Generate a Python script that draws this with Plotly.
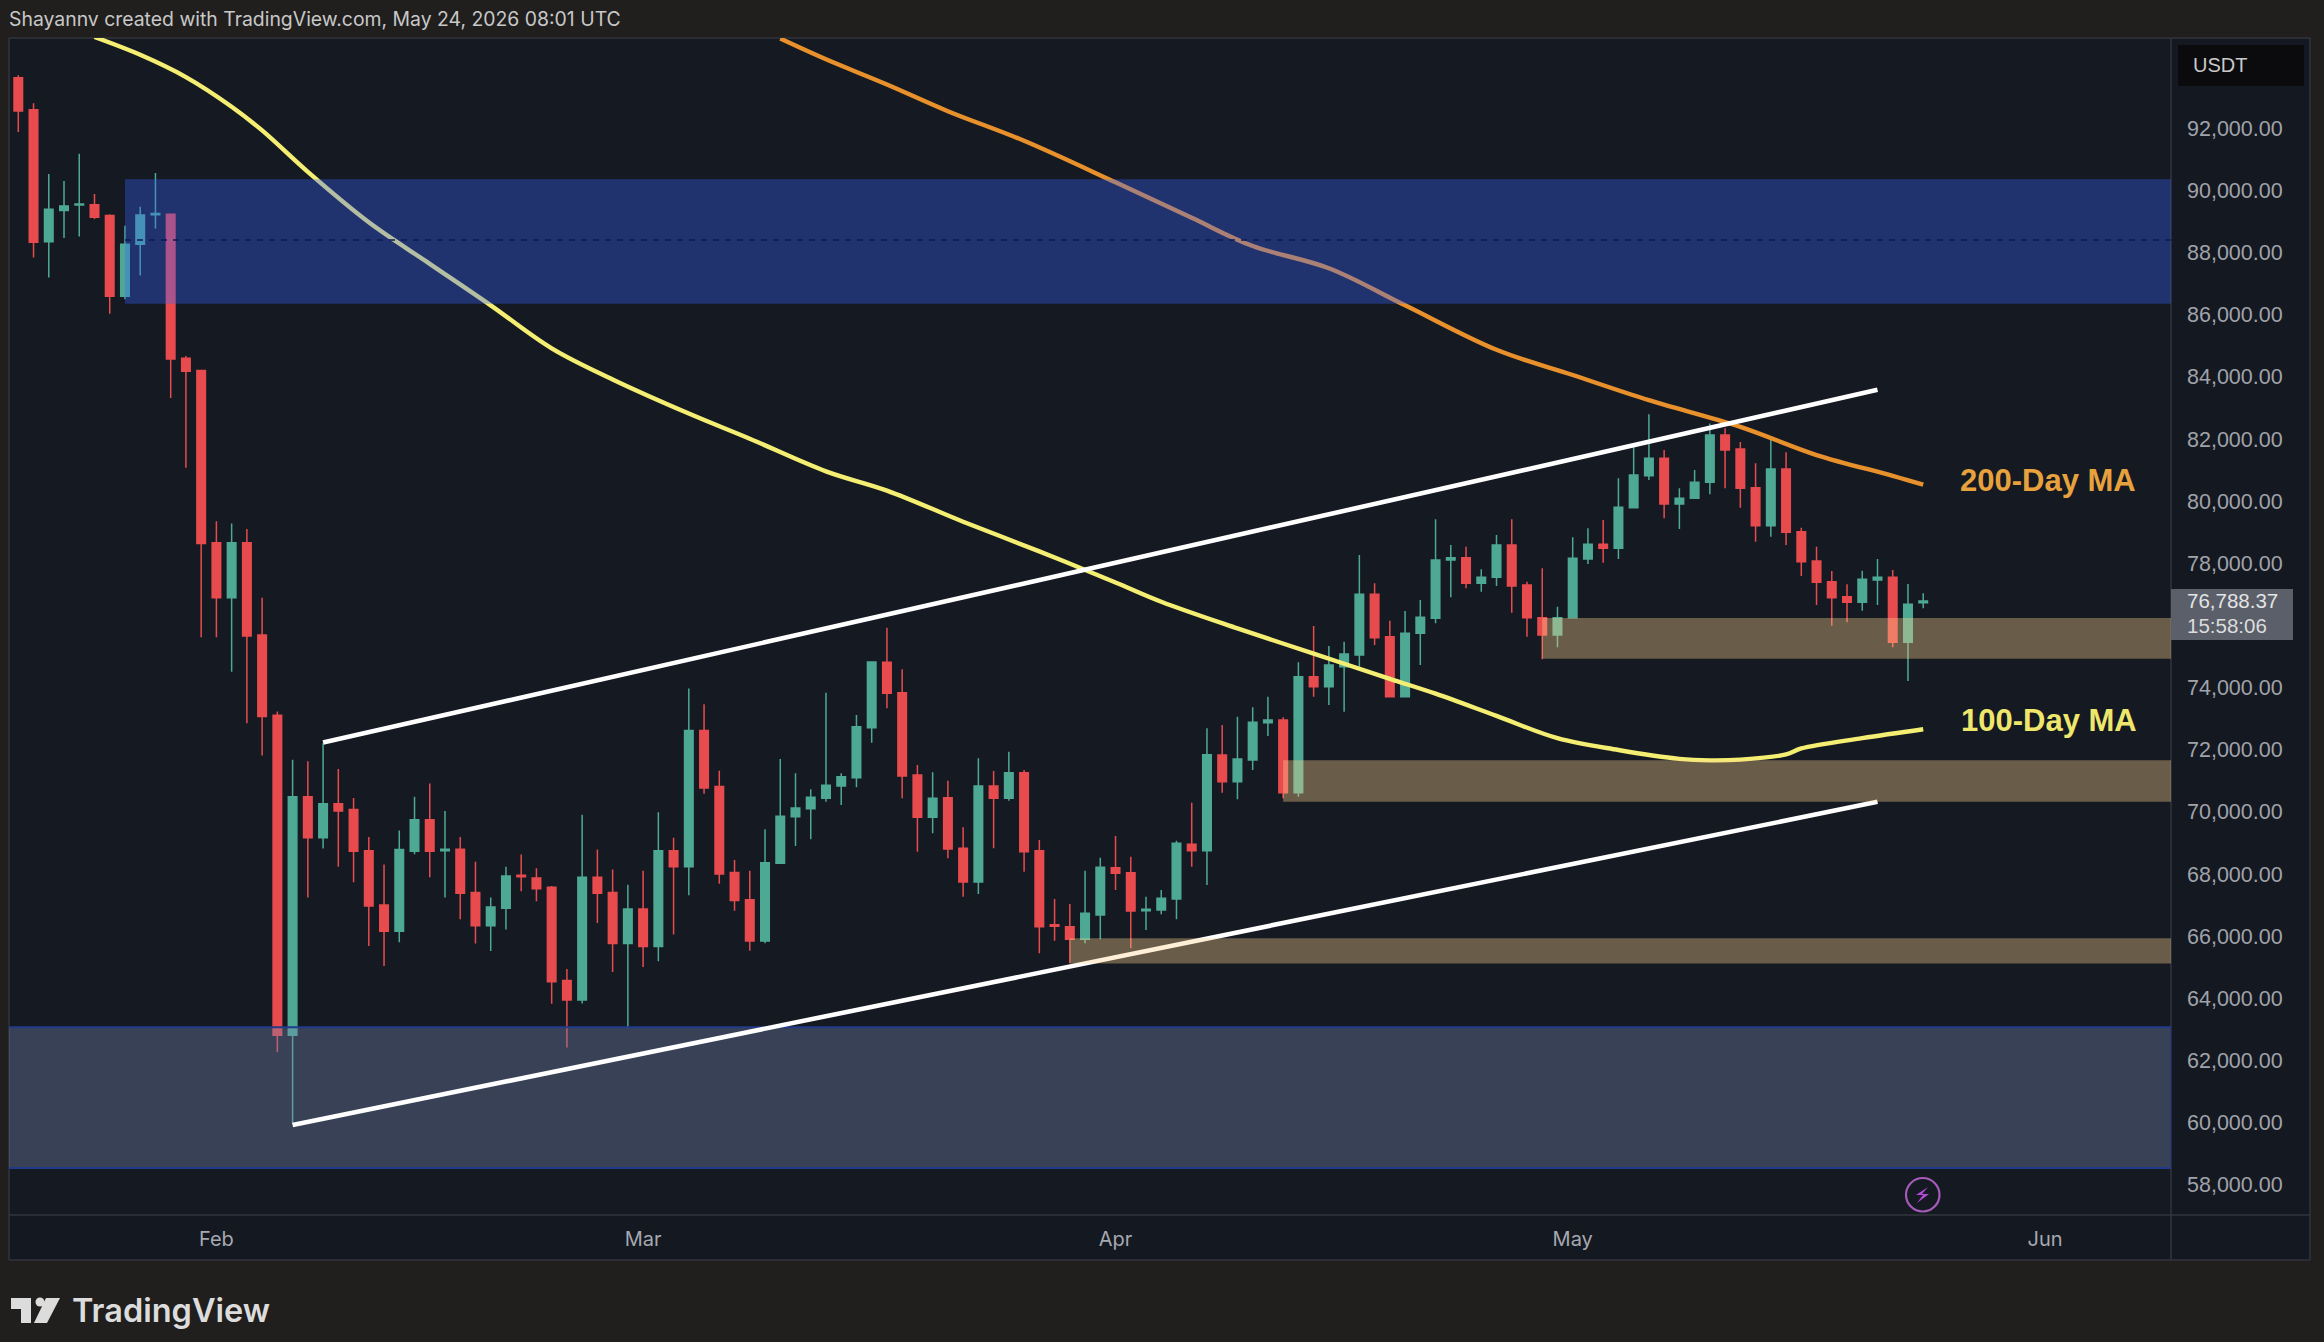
import pandas as pd
import plotly.graph_objects as go

# ---------- data ----------
FIRST_CANDLE = "2026-01-19"
opens = [93625,92591,88343,89353,89525,89538,89193,86595,88269,89217,89230,84600,84206,
78665,76890,78665,75695,73110,62816,70487,69170,70265,70081,68751,67003,66165,68739,69748,68751,68800,67409,66338,66904,
67963,67877,67581,64577,63949,67902,67409,65771,66879,65673,68751,68234,72617,70819,68049,67175,65845,68347,69849,
70106,70439,70836,71104,72713,74815,73839,71190,69828,70460,68830,67747,70836,70439,71265,68755,66370,66310,65902,
66685,68208,68047,66825,66846,67200,68959,68755,71833,70975,71672,72873,72959,70621,74354,74032,74675,75051,77003,
75640,73710,75747,76230,78107,78182,77356,77549,78589,77302,76251,75693,76251,78139,78611,78482,79790,80820,81378,
79908,80091,80606,82128,81678,80434,79211,81034,79018,78074,77409,76927,76745,77463,77549,75457,76730]
highs = [93700,92800,90523,90301,91175,89882,89230,88860,89476,90560,89254,84674,84206,
79355,79281,79108,76890,73233,71682,71632,72211,71386,70450,69194,68308,69404,70487,70918,70031,69194,68394,67249,68234,
68628,68185,67618,64946,69908,68788,68148,67655,68111,69994,69170,73972,73467,71324,68455,68111,69441,71704,71243,
70728,73839,71243,73120,74825,75930,74589,71511,71275,71007,69506,71726,71318,71940,71350,69098,67200,67039,68112,
68530,69227,68562,67275,67490,69077,70300,72691,72798,73067,73367,73710,73045,74815,75984,75340,75480,78268,77356,
76155,76466,76819,79415,78589,78536,77806,78911,79415,77409,77838,76605,78836,79125,79393,80734,81753,82793,81646,
80412,81002,82500,82343,81900,81217,81968,81571,79147,78536,77753,77324,77763,78139,77785,77334,77034]
lows = [91877,87838,87198,88466,88515,89082,86028,86500,87260,88774,83320,81078,75622,
75622,74513,72851,71817,62274,59960,67249,68825,68234,67741,65685,65045,65808,68640,67901,67249,66547,65771,65525,66215,
67446,67126,63826,62422,63838,66424,64848,63038,65008,65193,66055,67323,70586,67692,66818,65537,65773,68347,68905,
69120,70332,70224,70793,72230,73335,70439,68723,69313,68508,67275,67361,68830,70364,68079,65452,65860,65130,65773,
65902,67490,65613,66202,66707,66546,68240,67650,70621,70407,71350,72444,70439,70493,73710,73442,73227,74675,75372,
73700,73709,74728,76069,76905,77195,77088,77270,76412,75640,74910,75297,76251,77978,78021,78139,79769,80680,79447,
79104,80091,80219,80412,79790,78696,78857,78589,77592,76659,75994,76101,76476,76659,75297,74213,76551]
closes = [92554,88331,89390,89500,89562,89131,86595,88269,89205,89254,84576,84181,78640,
76890,78665,75659,73073,62816,70487,69170,70265,70031,68739,66978,66165,68788,69748,68739,68800,67384,66338,66941,67938,
67914,67532,64540,63949,67902,67384,65771,66879,65673,68751,68234,72617,70770,68000,67151,65845,68369,69859,70128,
70471,70857,71136,72745,74825,73817,71157,69828,70439,68809,67747,70836,70439,71265,68723,66310,66320,65902,66739,
68219,68026,66814,66868,67222,68991,68755,71844,70975,71704,72884,72959,70621,74354,74032,74729,75083,77003,75608,
73710,75748,76262,78107,78182,77356,77549,78589,77270,76251,75693,76251,78160,78611,78482,79801,80841,81378,79908,
80091,80606,82128,81646,80412,79211,81034,78997,78053,77388,76894,76745,77484,77549,75457,76680,76788]

ma200_days = ["2026-03-10","2026-03-13","2026-03-17","2026-03-21","2026-03-26","2026-04-01","2026-04-06","2026-04-10",
              "2026-04-15","2026-04-20","2026-04-26","2026-05-01","2026-05-06","2026-05-12","2026-05-17","2026-05-22","2026-05-24"]
ma200_vals = [94885,94218,93407,92548,91595,90259,89115,88209,87493,86301,84870,84060,83249,82390,81484,80816,80530]
ma100_days = ["2026-01-24","2026-01-27","2026-01-30","2026-02-02","2026-02-04","2026-02-07","2026-02-11","2026-02-15",
              "2026-02-19","2026-02-23","2026-02-27","2026-03-04","2026-03-08","2026-03-13","2026-03-17","2026-03-22",
              "2026-03-27","2026-04-01","2026-04-04","2026-04-09","2026-04-14","2026-04-19","2026-04-22","2026-04-26",
              "2026-04-30","2026-05-04","2026-05-08","2026-05-10","2026-05-12","2026-05-15","2026-05-16","2026-05-20","2026-05-24"]
ma100_vals = [94933,94361,93645,92692,91928,90593,88972,87636,86301,84918,83917,82820,82009,80960,80340,79339,
              78385,77383,76763,75905,75094,74283,73806,73091,72375,71994,71708,71660,71684,71851,72042,72375,72661]

upper_days = ["2026-02-08","2026-05-21"]; upper_vals = [72232,83583]
lower_days = ["2026-02-06","2026-05-21"]; lower_vals = [59929,70325]

blue_zone = ("2026-01-26", 86350, 90355)
blue_mid = 88405
slate_zone = ("2026-01-18", 58545, 63076)
tan_zones = [("2026-04-29", 74930, 76240), ("2026-04-12", 70325, 71660), ("2026-03-29", 65126, 65937)]

# 76,000 is not printed in the reference: the live price tag takes its place
y_ticks = [58000,60000,62000,64000,66000,68000,70000,72000,74000,78000,80000,82000,84000,86000,88000,90000,92000]
y_labels = [f"{v:,.2f}" for v in y_ticks]
x_ticks = ["2026-02-01","2026-03-01","2026-04-01","2026-05-01","2026-06-01"]
x_labels = ["Feb","Mar","Apr","May","Jun"]
X_RANGE = ["2026-01-18 09:22","2026-06-09 06:14"]
Y_RANGE = [57032, 94902]

# ---------- page geometry ----------
W, H = 2324, 1342
ML, MR, MT, MB = 9, 153, 38, 127
PW, PH = W-ML-MR, H-MT-MB
px = lambda x: (x-ML)/PW
py = lambda y: 1-(y-MT)/PH
PAGE = "#201f1e"; PLOT = "#151922"; PANEL = "#141821"; EDGE = "#32353d"
GREEN = "#4ea994"; RED = "#e84b4e"
ORANGE = "#e8912c"; YELLOW = "#f4ee72"

dates = pd.date_range(FIRST_CANDLE, periods=len(opens))
fig = go.Figure()
fig.add_trace(go.Candlestick(x=dates, open=opens, high=highs, low=lows, close=closes,
    increasing=dict(line=dict(color=GREEN, width=1.5), fillcolor=GREEN),
    decreasing=dict(line=dict(color=RED, width=1.5), fillcolor=RED),
    whiskerwidth=0, hoverinfo="skip", showlegend=False))
fig.add_trace(go.Scatter(x=ma100_days, y=ma100_vals, mode="lines", line=dict(color=YELLOW, width=4.4, shape="spline", smoothing=1.0), showlegend=False, hoverinfo="skip"))
fig.add_trace(go.Scatter(x=ma200_days, y=ma200_vals, mode="lines", line=dict(color=ORANGE, width=4.4, shape="spline", smoothing=1.0), showlegend=False, hoverinfo="skip"))

shapes = []
def prect(x0, y0, x1, y1, fill, line=None, layer="below"):
    shapes.append(dict(type="rect", xref="paper", yref="paper", x0=px(x0), x1=px(x1), y0=py(y1), y1=py(y0),
                       fillcolor=fill, line=dict(width=0 if line is None else 1.5, color=line or fill), layer=layer))
def pline(x0, y0, x1, y1, color=EDGE):
    shapes.append(dict(type="line", xref="paper", yref="paper", x0=px(x0), x1=px(x1), y0=py(y0), y1=py(y1),
                       line=dict(color=color, width=1.5), layer="below"))
def ppath(pts, fill, layer="above"):
    d = "M" + " L".join(f"{px(a):.5f},{py(b):.5f}" for a, b in pts) + " Z"
    shapes.append(dict(type="path", xref="paper", yref="paper", path=d, fillcolor=fill, line=dict(width=0), layer=layer))

# panels
prect(2171, 38, 2310, 1260, PANEL)
prect(9, 1215, 2171, 1260, PANEL)
pline(9, 38, 2310, 38); pline(2171, 38, 2171, 1260); pline(9, 1215, 2310, 1215)
pline(9, 1260, 2310, 1260); pline(2310, 38, 2310, 1260); pline(9, 38, 9, 1260)

# zones (alpha overlays on top of the candles)
shapes.append(dict(type="rect", xref="x", yref="y", x0=slate_zone[0], x1=X_RANGE[1], y0=slate_zone[1], y1=slate_zone[2],
                   fillcolor="rgba(119,136,179,0.37)", line=dict(color="#223a8a", width=2), layer="above"))
shapes.append(dict(type="rect", xref="x", yref="y", x0=blue_zone[0], x1=X_RANGE[1], y0=blue_zone[1], y1=blue_zone[2],
                   fillcolor="rgba(56,100,255,0.35)", line=dict(width=0), layer="above"))
shapes.append(dict(type="line", xref="x", yref="y", x0=blue_zone[0], x1=X_RANGE[1], y0=blue_mid, y1=blue_mid,
                   line=dict(color="#0c1a55", width=1.5, dash="6px,6px"), layer="above"))
for xd, yv in ((upper_days, upper_vals), (lower_days, lower_vals)):
    shapes.append(dict(type="line", xref="x", yref="y", x0=xd[0], x1=xd[1], y0=yv[0], y1=yv[1],
                       line=dict(color="#ffffff", width=4.6), layer="above"))
for x0, y0, y1 in tan_zones:
    shapes.append(dict(type="rect", xref="x", yref="y", x0=x0, x1=X_RANGE[1], y0=y0, y1=y1,
                       fillcolor="rgba(255,212,145,0.36)", line=dict(width=0), layer="above"))

# USDT box and price tag
prect(2178, 45, 2304, 86, "#0b0b0d", layer="above")
prect(2171, 589, 2293, 640, "#5a5f69", layer="above")

# TradingView mark
ppath([(11,1298),(31,1298),(31,1323),(21,1323),(21,1309),(11,1309)], "#dcdcdc")
ppath([(46,1298),(60,1298),(47,1323),(34,1323)], "#dcdcdc")
shapes.append(dict(type="circle", xref="paper", yref="paper", x0=px(35.5), x1=px(44.5), y0=py(1306.5), y1=py(1297.5),
                   fillcolor="#dcdcdc", line=dict(width=0), layer="above"))
# lightning marker
shapes.append(dict(type="circle", xref="paper", yref="paper", x0=px(1906), x1=px(1939.5), y0=py(1211.5), y1=py(1178),
                   fillcolor="rgba(0,0,0,0)", line=dict(color="#a45cb8", width=2.2), layer="above"))
ppath([(1928,1187),(1916,1195),(1923,1195),(1917,1203),(1929,1194),(1922,1194)], "#b24cd8")

def note(x, y, text, size, color, family="Liberation Sans", bold=False, anchor="left", weight=None):
    f = dict(size=size, color=color, family=family)
    if weight: f["weight"] = weight
    fig.add_annotation(xref="paper", yref="paper", x=px(x), y=py(y), text=f"<b>{text}</b>" if bold else text,
                       showarrow=False, xanchor=anchor, yanchor="middle", align="left", borderpad=0, font=f)

note(8, 19, "Shayannv created with TradingView.com, May 24, 2026 08:01 UTC", 19.4, "#c8c8c8", "Inter")
note(2192, 65, "USDT", 20, "#c9c9c9", "Liberation Sans")
note(2186, 600, "76,788.37", 20.5, "#e4e4e4")
note(2186, 625, "15:58:06", 20.5, "#dcdcdc")
note(1959, 480, "200-Day MA", 31, "#e7a13d", bold=True)
note(1960, 720, "100-Day MA", 31, "#eee76c", bold=True)
note(71, 1310, "TradingView", 32.5, "#dcdcdc", "Inter", weight=600)

fig.update_layout(
    width=W, height=H, autosize=False, template="none",
    margin=dict(l=ML, r=MR, t=MT, b=MB, pad=0),
    paper_bgcolor=PAGE, plot_bgcolor=PLOT, shapes=shapes, showlegend=False, boxgap=0.2,
    xaxis=dict(type="date", range=X_RANGE, tickmode="array", tickvals=x_ticks, ticktext=x_labels,
               showgrid=False, zeroline=False, showline=False, ticks="", rangeslider=dict(visible=False),
               ticklabelstandoff=10, tickfont=dict(size=20, color="#a6a9b0", family="Inter")),
    yaxis=dict(range=Y_RANGE, side="right", tickmode="array", tickvals=y_ticks, ticktext=y_labels,
               showgrid=False, zeroline=False, showline=False, ticks="",
               ticklabelstandoff=15, tickfont=dict(size=21.5, color="#a0a3aa", family="Liberation Sans")),
)
fig.write_html("out.html", config=dict(displayModeBar=False),
               post_script="document.body.style.margin='0';document.body.style.overflow='hidden';")
